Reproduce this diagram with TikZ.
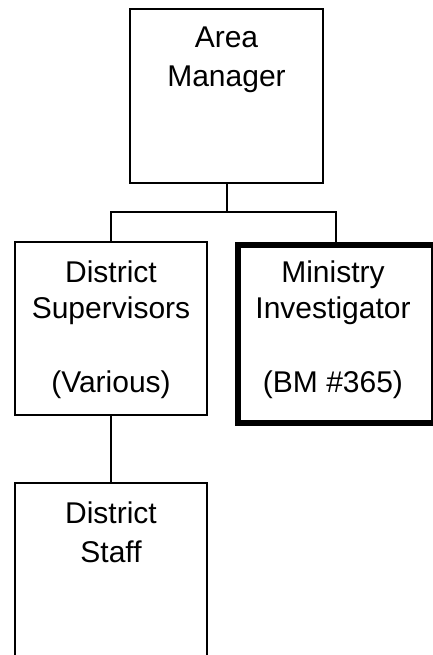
\documentclass[tikz,border=0pt]{standalone}
\usepackage{fontspec}
\setmainfont{Liberation Sans}
\begin{document}
\begin{tikzpicture}[x=1pt,y=-1pt,
  box/.style={draw=black,line width=2pt,fill=white,inner sep=0pt,outer sep=0pt,rectangle},
  thickbox/.style={box,line width=6pt},
  lbl/.style={anchor=base,inner sep=0pt,font=\fontsize{30}{36}\selectfont},
  conn/.style={draw=black,line width=2pt}]
\useasboundingbox (0,0) rectangle (432,655);
\fill[white] (0,0) rectangle (432,655);
% boxes
\node[box,minimum width=193pt,minimum height=174pt] (am) at (226.5,96) {};
\node[box,minimum width=192pt,minimum height=173pt] (ds) at (111,328.5) {};
\node[thickbox,minimum width=196pt,minimum height=178pt] (mi) at (336,334) {};
\node[box,minimum width=192pt,minimum height=187pt] (st) at (111,576.5) {};
% connectors
\coordinate (bar) at (226.5,212);
\draw[conn] (am.south) -- (bar);
\draw[conn] (ds.north) |- (bar) -| (mi.north);
\draw[conn] (ds.south) -- (st.north);
% labels
\node[lbl] (t1) at (226.5,48) {Area};
\node[lbl] (t2) at (226.5,87) {Manager};
\node[lbl] (t3) at (111,282) {District};
\node[lbl] (t4) at (111,318) {Supervisors};
\node[lbl] (t5) at (111,392) {(Various)};
\node[lbl] (t6) at (333,282) {Ministry};
\node[lbl] (t7) at (333,318) {Investigator};
\node[lbl] (t8) at (333,392) {(BM \#365)};
\node[lbl] (t9) at (111,523) {District};
\node[lbl] (t10) at (111,562) {Staff};
\end{tikzpicture}
\end{document}
